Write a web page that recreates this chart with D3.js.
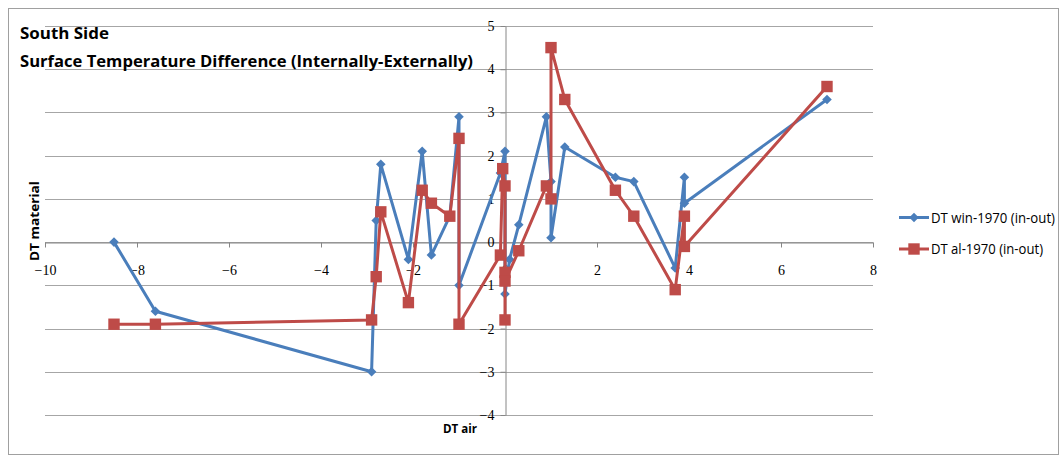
<!DOCTYPE html>
<html>
<head>
<meta charset="utf-8">
<script src="https://cdn.jsdelivr.net/npm/d3@7/dist/d3.min.js"></script>
<style>
  html, body { margin: 0; padding: 0; background: #fff; }
  svg { display: block; }
</style>
</head>
<body>
<svg id="chart" width="1062" height="458"></svg>
<script>
// ---- Data ----
const titleLines = ["South Side", "Surface Temperature Difference (Internally-Externally)"];
const xTitle = "DT air";
const yTitle = "DT material";
const seriesNames = ["DT win-1970 (in-out)", "DT al-1970 (in-out)"];

const winX = [-8.5, -7.6, -2.9, -2.8, -2.7, -2.1, -1.8, -1.6, -1.2, -1.0, -1.0, -0.1, 0.0, 0.0, 0.1, 0.3, 0.9, 1.0, 1.0, 1.3, 2.4, 2.8, 3.7, 3.9, 3.9, 7.0];
const winY = [0.0, -1.6, -3.0, 0.5, 1.8, -0.4, 2.1, -0.3, 0.6, 2.9, -1.0, 1.6, 2.1, -1.2, -0.4, 0.4, 2.9, 1.4, 0.1, 2.2, 1.5, 1.4, -0.6, 1.5, 0.9, 3.3];

const alX = [-8.5, -7.6, -2.9, -2.8, -2.7, -2.1, -1.8, -1.6, -1.2, -1.0, -1.0, -0.1, -0.05, 0.0, 0.0, 0.0, 0.0, 0.3, 0.9, 1.0, 1.0, 1.3, 2.4, 2.8, 3.7, 3.9, 3.9, 7.0];
const alY = [-1.9, -1.9, -1.8, -0.8, 0.7, -1.4, 1.2, 0.9, 0.6, 2.4, -1.9, -0.3, 1.7, 1.3, -1.8, -0.7, -0.9, -0.2, 1.3, 1.0, 4.5, 3.3, 1.2, 0.6, -1.1, 0.6, -0.1, 3.6];

const xTicks = [-10, -8, -6, -4, -2, 0, 2, 4, 6, 8];
const yTicks = [-4, -3, -2, -1, 0, 1, 2, 3, 4, 5];

// ---- Layout ----
const svg = d3.select("#chart");
const plotLeft = 45, plotRight = 873, plotTop = 26, plotBottom = 415;
const x = d3.scaleLinear().domain([-10, 8]).range([plotLeft, plotRight]);
const y = d3.scaleLinear().domain([-4, 5]).range([plotBottom, plotTop]);

const blue = "#4A7EBB", red = "#BE4B48";
const gridColor = "#a6a6a6", axisColor = "#868686";
const tickFont = "'Liberation Serif', 'DejaVu Serif', serif";
const textFont = "'Open Sans', 'Liberation Sans', sans-serif";

// outer border
svg.append("rect").attr("x", 8.5).attr("y", 8.5).attr("width", 1050).attr("height", 446)
  .attr("fill", "none").attr("stroke", "#a0a0a0").attr("stroke-width", 1);

// gridlines
svg.append("g").selectAll("line").data(yTicks).join("line")
  .attr("x1", plotLeft).attr("x2", plotRight)
  .attr("y1", d => Math.round(y(d)) + 0.5).attr("y2", d => Math.round(y(d)) + 0.5)
  .attr("stroke", gridColor).attr("stroke-width", 1);

// x axis at y=0
const xAxis = d3.axisBottom(x).tickValues(xTicks).tickSizeInner(5).tickSizeOuter(0).tickPadding(18)
  .tickFormat(d3.format("d"));
const gx = svg.append("g").attr("transform", `translate(0,${Math.round(y(0)) + 0.5})`).call(xAxis);
gx.attr("font-family", tickFont).attr("font-size", 14);
gx.select(".domain").attr("stroke", axisColor);
gx.selectAll(".tick line").attr("stroke", axisColor);
gx.selectAll(".tick text").style("font-family", tickFont).style("font-size", "14px").attr("fill", "#000");

// y axis at x=0
const yAxis = d3.axisLeft(y).tickValues(yTicks).tickSizeInner(5).tickSizeOuter(0).tickPadding(6)
  .tickFormat(d3.format("d"));
const gy = svg.append("g").attr("transform", `translate(${Math.round(x(0)) + 0.5},0)`).call(yAxis);
gy.attr("font-family", tickFont).attr("font-size", 14);
gy.select(".domain").attr("stroke", axisColor);
gy.selectAll(".tick line").attr("stroke", axisColor);
gy.selectAll(".tick text").style("font-family", tickFont).style("font-size", "14px").attr("fill", "#000");

// series
const series = [
  { name: seriesNames[0], xs: winX, ys: winY, color: blue, shape: "diamond" },
  { name: seriesNames[1], xs: alX, ys: alY, color: red, shape: "square" }
];
const line = d3.line().x(d => x(d[0])).y(d => y(d[1]));
const diamond = d3.symbol().type(d3.symbolSquare).size(46);
const square = d3.symbol().type(d3.symbolSquare).size(130);

series.forEach(s => {
  const pts = s.xs.map((v, i) => [v, s.ys[i]]);
  svg.append("path").datum(pts).attr("d", line)
    .attr("fill", "none").attr("stroke", s.color).attr("stroke-width", 3).attr("stroke-linejoin", "round");
  svg.append("g").selectAll("path").data(pts).join("path")
    .attr("d", s.shape === "diamond" ? diamond : square)
    .attr("transform", d => `translate(${x(d[0])},${y(d[1])})` + (s.shape === "diamond" ? " rotate(45)" : ""))
    .attr("fill", s.color);
});

// titles
const titleG = svg.append("g").attr("font-family", textFont)
  .attr("font-weight", 700).attr("font-size", 16.5).attr("fill", "#000");
titleG.append("text").attr("x", 20).attr("y", 39).attr("textLength", 89).attr("lengthAdjust", "spacingAndGlyphs").text(titleLines[0]);
titleG.append("text").attr("x", 20).attr("y", 67).attr("textLength", 453).attr("lengthAdjust", "spacingAndGlyphs").text(titleLines[1]);

svg.append("text").attr("x", 460).attr("y", 433).attr("text-anchor", "middle")
  .attr("font-family", textFont).attr("font-weight", 700).attr("font-size", 13)
  .attr("textLength", 34).attr("lengthAdjust", "spacingAndGlyphs").text(xTitle);
svg.append("text").attr("transform", "translate(39,221) rotate(-90)").attr("text-anchor", "middle")
  .attr("font-family", textFont).attr("font-weight", 700).attr("font-size", 13)
  .attr("textLength", 80).attr("lengthAdjust", "spacingAndGlyphs").text(yTitle);

// legend
const legend = svg.append("g");
series.forEach((s, i) => {
  const ly = 217.5 + i * 31.5;
  legend.append("line").attr("x1", 899).attr("x2", 929).attr("y1", ly).attr("y2", ly)
    .attr("stroke", s.color).attr("stroke-width", 3);
  legend.append("path").attr("d", s.shape === "diamond" ? diamond : square)
    .attr("transform", `translate(914,${ly})` + (s.shape === "diamond" ? " rotate(45)" : ""))
    .attr("fill", s.color);
  legend.append("text").attr("x", 931).attr("y", ly + 5)
    .attr("font-family", textFont).attr("font-size", 14).attr("fill", "#000")
    .attr("textLength", i === 0 ? 124 : 112).attr("lengthAdjust", "spacingAndGlyphs")
    .text(s.name);
});
</script>
</body>
</html>
